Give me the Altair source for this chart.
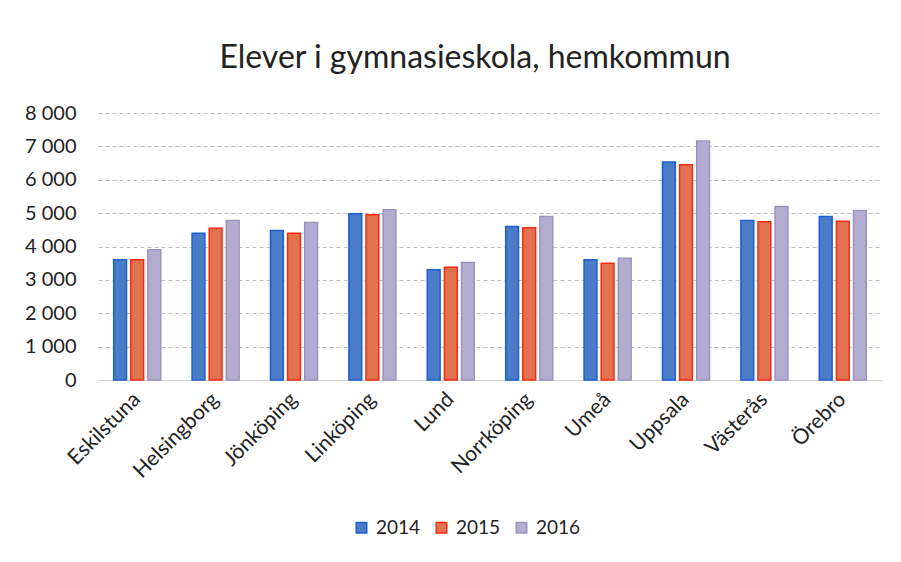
import altair as alt
import pandas as pd

cities = ["Eskilstuna", "Helsingborg", "Jönköping", "Linköping", "Lund",
          "Norrköping", "Umeå", "Uppsala", "Västerås", "Örebro"]
years = ["2014", "2015", "2016"]
v2014 = [3600, 4400, 4480, 4980, 3300, 4600, 3600, 6530, 4780, 4900]
v2015 = [3600, 4550, 4400, 4950, 3380, 4560, 3500, 6450, 4740, 4760]
v2016 = [3900, 4780, 4720, 5100, 3520, 4900, 3650, 7160, 5200, 5080]

fills = ["#4a7cc8", "#e2714f", "#b4acd0"]
strokes = ["#1a5fd0", "#f52a12", "#9a93bd"]

rows = []
for y, vals in zip(years, [v2014, v2015, v2016]):
    for c, v in zip(cities, vals):
        rows.append({"Kommun": c, "År": y, "Elever": v})
df = pd.DataFrame(rows)

FONT = "Lato"

chart = alt.Chart(df).mark_bar(strokeWidth=1.5).encode(
    x=alt.X("Kommun:N", sort=cities, title=None,
            scale=alt.Scale(paddingInner=0.4, paddingOuter=0.2),
            axis=alt.Axis(labelAngle=-45, labelAlign="right", labelBaseline="middle",
                          labelFontSize=21, labelFont=FONT, labelColor="#222",
                          labelPadding=16, ticks=False, domain=True,
                          domainColor="#d0d0d0", grid=False)),
    xOffset=alt.XOffset("År:N", sort=years, scale=alt.Scale(paddingInner=0.25)),
    y=alt.Y("Elever:Q", title=None,
            scale=alt.Scale(domain=[0, 8000]),
            axis=alt.Axis(values=[0, 1000, 2000, 3000, 4000, 5000, 6000, 7000, 8000],
                          labelExpr="replace(format(datum.value, ','), ',', ' ')",
                          labelFontSize=20, labelFont=FONT, labelColor="#222",
                          labelPadding=22, ticks=False, domain=False,
                          grid=True, gridColor="#bdbdbd", gridDash=[4, 3],
                          gridWidth=1)),
    fill=alt.Fill("År:N", sort=years,
                  scale=alt.Scale(domain=years, range=fills),
                  legend=alt.Legend(title=None, orient="none", legendX=254, legendY=405,
                                    direction="horizontal", symbolType="square",
                                    symbolSize=110, labelFontSize=19, labelFont=FONT,
                                    labelColor="#222", columnPadding=11,
                                    labelOffset=5, symbolStrokeWidth=1.5)),
    stroke=alt.Stroke("År:N", sort=years,
                      scale=alt.Scale(domain=years, range=strokes),
                      legend=None),
).properties(
    width=784,
    height=267,
    title=alt.TitleParams("Elever i gymnasieskola, hemkommun", fontSize=32,
                          font=FONT, fontWeight="normal", color="#222",
                          anchor="middle", frame="group", dx=-15, offset=28),
    autosize=alt.AutoSizeParams(type="none"),
    padding={"left": 90, "top": 105, "right": 11, "bottom": 174},
).configure_view(stroke=None)

chart.save("out.html", embed_options={"renderer": "svg", "actions": False})
